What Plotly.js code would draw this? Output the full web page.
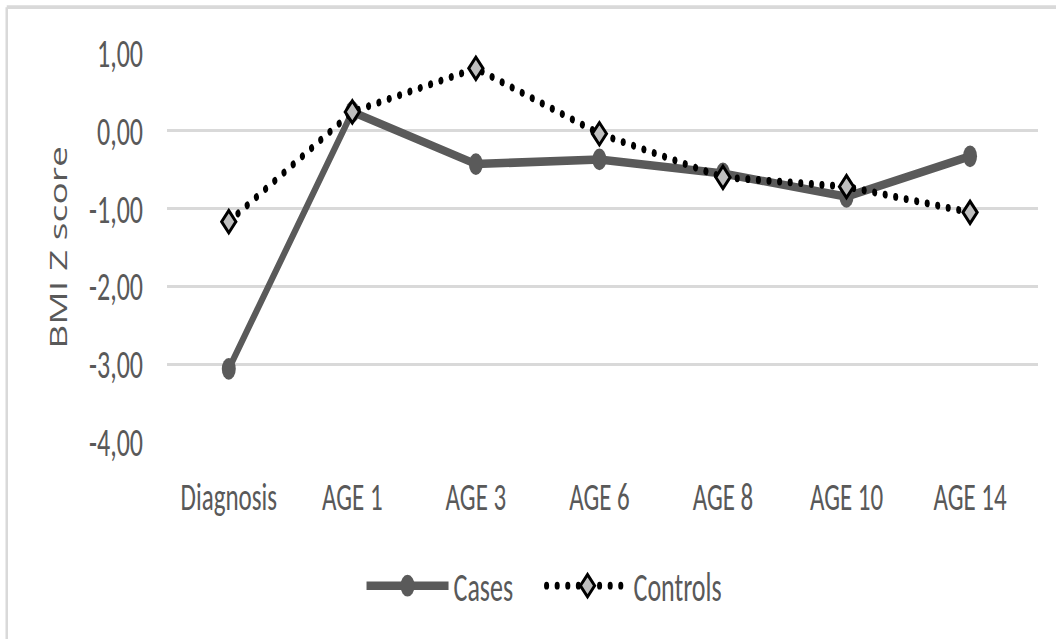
<!DOCTYPE html>
<html>
<head>
<meta charset="utf-8">
<script src="https://cdn.plot.ly/plotly-3.0.1.min.js"></script>
<style>
html,body{margin:0;padding:0;background:#fff;width:1056px;height:639px;overflow:hidden;}
#chart{width:1056px;height:412px;transform:scaleY(1.551);transform-origin:0 0;}
#chart .scatterlayer .trace:nth-child(2) .js-line,
#chart .legend .traces:nth-child(2) .js-line{stroke-linecap:round;}
</style>
</head>
<body>
<div id="chart"></div>
<script>
const categories = ["Diagnosis", "AGE 1", "AGE 3", "AGE 6", "AGE 8", "AGE 10", "AGE 14"];
const casesValues = [-3.06, 0.24, -0.43, -0.37, -0.55, -0.85, -0.33];
const controlsValues = [-1.17, 0.24, 0.80, -0.04, -0.60, -0.72, -1.05];
const yTickValues = [-4, -3, -2, -1, 0, 1];
const yTickLabels = ["-4,00", "-3,00", "-2,00", "-1,00", "0,00", "1,00"];

const mainFont = "Carlito, Lato, 'Liberation Sans', sans-serif";

const traces = [
  {
    x: categories, y: casesValues, name: "Cases", type: "scatter", mode: "lines+markers",
    line: {color: "#5a5a5a", width: 5.5},
    marker: {symbol: "circle", size: 14, color: "#5a5a5a"}
  },
  {
    x: categories, y: controlsValues, name: "Controls", type: "scatter", mode: "lines+markers",
    line: {color: "#000000", width: 5, dash: "0.1px,10.5px"},
    marker: {symbol: "diamond", size: 11, color: "#bfbfbf", line: {color: "#000000", width: 2.5}}
  }
];

const layout = {
  width: 1056, height: 412,
  paper_bgcolor: "#ffffff", plot_bgcolor: "#ffffff",
  margin: {l: 167, r: 18, t: 34, b: 126},
  font: {family: mainFont, size: 25, color: "#595959"},
  showlegend: true,
  legend: {
    orientation: "h", x: 0.43, xanchor: "center", y: -0.364, yanchor: "middle",
    itemwidth: 82, entrywidth: 83, entrywidthmode: "pixels",
    font: {family: mainFont, size: 26, color: "#595959"}
  },
  xaxis: {
    type: "category", range: [-0.5, 6.55],
    showgrid: false, zeroline: false, showline: false,
    ticks: "", ticklabelstandoff: 18,
    tickfont: {family: mainFont, size: 25, color: "#595959"}
  },
  yaxis: {
    range: [-4, 1], tickvals: yTickValues, ticktext: yTickLabels,
    showgrid: true, gridcolor: "#d9d9d9", gridwidth: 2,
    zeroline: false, showline: false, ticks: "", ticklabelstandoff: 23,
    tickfont: {family: mainFont, size: 26, color: "#595959"},
    title: {text: "BMI Z score", standoff: 14, font: {family: "'Open Sans', 'DejaVu Sans', sans-serif", size: 24, color: "#595959"}}
  },
  shapes: [
    {type: "line", xref: "paper", yref: "paper", x0: -0.184, x1: 1.03, y0: 1.117, y1: 1.117, line: {color: "#d9d9d9", width: 2.5}},
    {type: "line", xref: "paper", yref: "paper", x0: -0.184, x1: -0.184, y0: 1.117, y1: -0.6, line: {color: "#d9d9d9", width: 2.5}}
  ]
};

Plotly.newPlot("chart", traces, layout, {displayModeBar: false, staticPlot: true});
</script>
</body>
</html>
